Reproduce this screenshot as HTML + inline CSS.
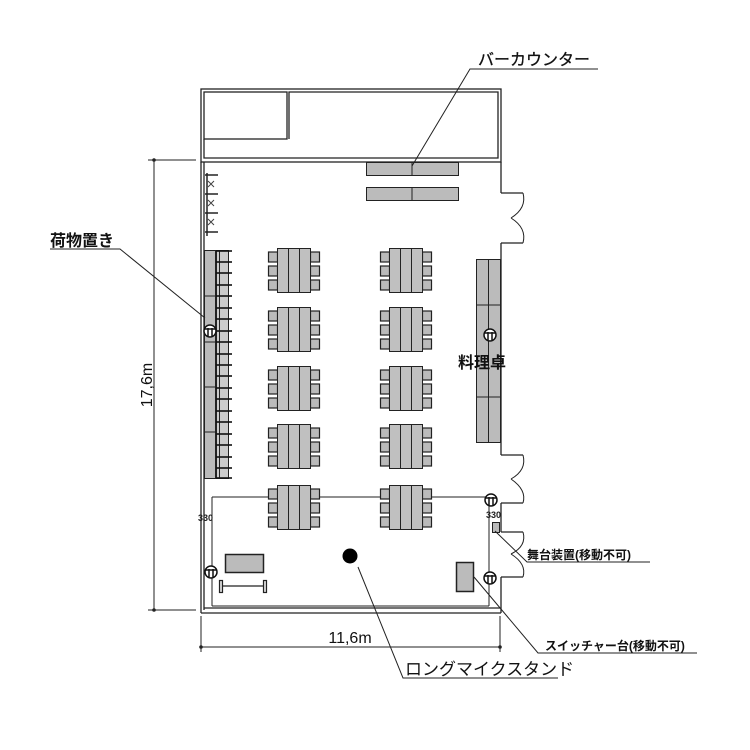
<!DOCTYPE html>
<html><head><meta charset="utf-8"><style>html,body{margin:0;padding:0;background:#fff}svg{display:block}</style></head>
<body>
<svg width="750" height="750" viewBox="0 0 750 750" xmlns="http://www.w3.org/2000/svg" font-family="'Liberation Sans','Noto Sans CJK JP',sans-serif">
<defs>
<g id="tb">
 <rect x="0.5" y="4" width="9" height="10" fill="#bbb" stroke="#222" stroke-width="1.2"/>
 <rect x="0.5" y="18" width="9" height="10" fill="#bbb" stroke="#222" stroke-width="1.2"/>
 <rect x="0.5" y="32" width="9" height="10" fill="#bbb" stroke="#222" stroke-width="1.2"/>
 <rect x="42.5" y="4" width="9" height="10" fill="#bbb" stroke="#222" stroke-width="1.2"/>
 <rect x="42.5" y="18" width="9" height="10" fill="#bbb" stroke="#222" stroke-width="1.2"/>
 <rect x="42.5" y="32" width="9" height="10" fill="#bbb" stroke="#222" stroke-width="1.2"/>
 <rect x="9.5" y="0.5" width="33" height="44" fill="#c0c0c0" stroke="#222" stroke-width="1"/>
 <line x1="20.5" y1="0.5" x2="20.5" y2="44.5" stroke="#222"/>
 <line x1="31.5" y1="0.5" x2="31.5" y2="44.5" stroke="#222"/>
</g>
<g id="ol">
 <circle cx="0" cy="0" r="6" fill="#fff" stroke="#111" stroke-width="1.5"/>
 <line x1="-2" y1="-3" x2="-2" y2="5" stroke="#111" stroke-width="1.5"/>
 <line x1="2" y1="-3" x2="2" y2="5" stroke="#111" stroke-width="1.5"/>
 <line x1="-6" y1="-2" x2="6" y2="-2" stroke="#111" stroke-width="1.5"/>
</g>
</defs>
<g fill="none" stroke="#222" stroke-width="1.3">
 <rect x="201" y="89" width="300" height="73"/>
 <rect x="204" y="92" width="83" height="47"/>
 <polyline points="204,139 204,158 498,158 498,92 289,92 289,139"/>
 <line x1="201" y1="162" x2="201" y2="613"/>
 <line x1="204" y1="162" x2="204" y2="610"/>
 <line x1="201" y1="613" x2="501" y2="613"/>
 <line x1="204" y1="608" x2="500" y2="608"/>
 <line x1="501" y1="162" x2="501" y2="193"/>
 <line x1="501" y1="193" x2="523" y2="193"/>
 <line x1="501" y1="243" x2="523" y2="243"/>
 <line x1="501" y1="243" x2="501" y2="455"/>
 <line x1="501" y1="455" x2="523" y2="455"/>
 <line x1="501" y1="503" x2="523" y2="503"/>
 <line x1="501" y1="503" x2="501" y2="532"/>
 <line x1="501" y1="532" x2="523" y2="532"/>
 <line x1="501" y1="577" x2="523" y2="577"/>
 <line x1="501" y1="577" x2="501" y2="613"/>
 <path d="M523,193 Q527,208 511,218 M511,218 Q527,228 523,243" stroke-width="1"/>
 <path d="M523,455 Q527,470 511,479 M511,479 Q527,490 523,503" stroke-width="1"/>
 <path d="M523,532 Q527,546 511,554 M511,554 Q527,564 523,577" stroke-width="1"/>
 <line x1="489" y1="497" x2="489" y2="606" stroke-width="1"/>
 <line x1="212" y1="497" x2="489" y2="497" stroke-width="1"/>
 <line x1="212" y1="497" x2="212" y2="606" stroke-width="1"/>
 <line x1="212" y1="606" x2="489" y2="606" stroke-width="1"/>
</g>
<g fill="#bbb" stroke="#222" stroke-width="1">
 <rect x="366.5" y="162.5" width="92" height="13"/>
 <rect x="366.5" y="187.5" width="92" height="13"/>
 <rect x="476.5" y="259.5" width="24" height="183"/>
 <rect x="204.5" y="250.5" width="11" height="228"/>
 <rect x="225.5" y="554.5" width="38" height="18" stroke-width="1.5"/>
 <rect x="456.5" y="562.5" width="17" height="29" stroke-width="1.5"/>
</g>
<g stroke="#222" stroke-width="1">
 <line x1="412" y1="162" x2="412" y2="176"/><line x1="412" y1="187" x2="412" y2="201"/>
 <line x1="488.5" y1="260" x2="488.5" y2="442"/>
 <line x1="476" y1="305" x2="500" y2="305"/><line x1="476" y1="397" x2="500" y2="397"/>
 <line x1="204" y1="296" x2="215" y2="296"/><line x1="204" y1="342" x2="215" y2="342"/><line x1="204" y1="387" x2="215" y2="387"/><line x1="204" y1="432" x2="215" y2="432"/>
</g>
<g fill="#ccc" stroke="#222" stroke-width="1">
 <rect x="216.5" y="250.5" width="3" height="228"/>
 <rect x="219.5" y="250.5" width="9" height="228"/>
</g>
<g stroke="#111" stroke-width="1.6">
 <line x1="216" y1="251" x2="232" y2="251"/><line x1="216" y1="262" x2="232" y2="262"/><line x1="216" y1="273" x2="232" y2="273"/><line x1="216" y1="285" x2="232" y2="285"/><line x1="216" y1="296" x2="232" y2="296"/><line x1="216" y1="308" x2="232" y2="308"/><line x1="216" y1="319" x2="232" y2="319"/><line x1="216" y1="331" x2="232" y2="331"/><line x1="216" y1="342" x2="232" y2="342"/><line x1="216" y1="354" x2="232" y2="354"/><line x1="216" y1="365" x2="232" y2="365"/><line x1="216" y1="376" x2="232" y2="376"/><line x1="216" y1="388" x2="232" y2="388"/><line x1="216" y1="399" x2="232" y2="399"/><line x1="216" y1="411" x2="232" y2="411"/><line x1="216" y1="422" x2="232" y2="422"/><line x1="216" y1="434" x2="232" y2="434"/><line x1="216" y1="445" x2="232" y2="445"/><line x1="216" y1="457" x2="232" y2="457"/><line x1="216" y1="468" x2="232" y2="468"/><line x1="216" y1="478" x2="232" y2="478"/>
</g>
<g stroke="#222" stroke-width="1.5">
 <line x1="205" y1="175" x2="218" y2="175"/><line x1="205" y1="194" x2="218" y2="194"/><line x1="205" y1="213" x2="218" y2="213"/><line x1="205" y1="232" x2="218" y2="232"/>
 <line x1="207" y1="173" x2="207" y2="236"/>
</g>
<g fill="none" stroke="#444" stroke-width="1"><path d="M208,181 l6,6 M214,181 l-6,6 M208,200 l6,6 M214,200 l-6,6 M208,219 l6,6 M214,219 l-6,6"/></g>
<use href="#tb" x="268" y="248"/><use href="#tb" x="380" y="248"/>
<use href="#tb" x="268" y="307"/><use href="#tb" x="380" y="307"/>
<use href="#tb" x="268" y="366"/><use href="#tb" x="380" y="366"/>
<use href="#tb" x="268" y="424"/><use href="#tb" x="380" y="424"/>
<use href="#tb" x="268" y="485"/><use href="#tb" x="380" y="485"/>
<use href="#ol" x="210" y="331"/><use href="#ol" x="490" y="335"/><use href="#ol" x="491" y="500"/><use href="#ol" x="211" y="572"/><use href="#ol" x="490" y="578"/>
<text x="198" y="521" font-size="9" font-weight="bold" fill="#222">330</text>
<text x="486" y="518" font-size="9" font-weight="bold" fill="#222">330</text>
<rect x="492.5" y="522.5" width="7" height="10" fill="#bbb" stroke="#222"/>
<g stroke="#222" stroke-width="1.2" fill="#ddd">
 <line x1="222" y1="586" x2="265" y2="586"/>
 <rect x="219.5" y="580.5" width="3" height="12"/><rect x="263.5" y="580.5" width="3" height="12"/>
</g>
<circle cx="350" cy="556" r="7.5" fill="#000"/>
<g stroke="#222" stroke-width="1">
 <line x1="154" y1="160" x2="154" y2="610"/>
 <line x1="148" y1="160" x2="196" y2="160"/><line x1="148" y1="610" x2="196" y2="610"/>
 <line x1="201" y1="616" x2="201" y2="652"/><line x1="500" y1="616" x2="500" y2="652"/>
 <line x1="201" y1="647" x2="500" y2="647"/>
</g>
<g fill="#222"><circle cx="154" cy="160" r="1.8"/><circle cx="154" cy="610" r="1.8"/><circle cx="201" cy="647" r="1.8"/><circle cx="500" cy="647" r="1.8"/></g>
<text x="0" y="0" font-size="16" fill="#111" text-anchor="middle" transform="translate(152,385) rotate(-90)">17,6m</text>
<text x="350" y="643" font-size="16" fill="#111" text-anchor="middle">11,6m</text>
<g stroke="#222" stroke-width="1" fill="none">
 <polyline points="598,69 470,69 412,166"/>
 <polyline points="50,249 120,249 205,318"/>
 <polyline points="558,678 403,678 358,567"/>
 <polyline points="697,653 538,653 474,577"/>
 <polyline points="650,562 527,562 495,531"/>
</g>
<text x="478" y="65" font-size="16" fill="#111" stroke="#111" stroke-width="0.3">バーカウンター</text>
<text x="50" y="246" font-size="16" font-weight="bold" fill="#111">荷物置き</text>
<text x="458" y="368" font-size="16" font-weight="bold" fill="#111">料理卓</text>
<text x="405" y="675" font-size="17" fill="#111">ロングマイクスタンド</text>
<text x="545" y="650" font-size="12" font-weight="bold" fill="#111">スイッチャー台(移動不可)</text>
<text x="527" y="559" font-size="12" font-weight="bold" fill="#111">舞台装置(移動不可)</text>
</svg>
</body></html>
